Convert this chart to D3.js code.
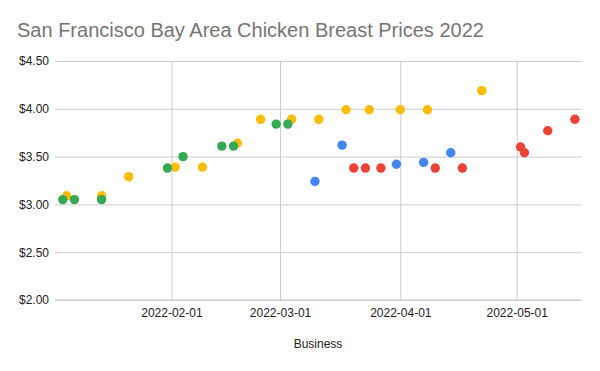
<!DOCTYPE html>
<html><head><meta charset="utf-8">
<script src="https://cdn.jsdelivr.net/npm/d3@7"></script>
<style>body{margin:0;background:#fff}svg{display:block;font-family:Arial,"Liberation Sans",sans-serif}</style>
</head><body><svg id="c" width="600" height="371"></svg>
<script>
const title = "San Francisco Bay Area Chicken Breast Prices 2022";
const xTitle = "Business";
const xTickLabels = ["2022-02-01", "2022-03-01", "2022-04-01", "2022-05-01"];
const yTicks = [2.0, 2.5, 3.0, 3.5, 4.0, 4.5];

const blueDates = ["2022-03-10", "2022-03-17", "2022-03-31", "2022-04-07", "2022-04-14"];
const bluePrices = [3.24, 3.62, 3.42, 3.44, 3.54];
const redDates = ["2022-03-20", "2022-03-23", "2022-03-27", "2022-04-10", "2022-04-17", "2022-05-02", "2022-05-03", "2022-05-09", "2022-05-16"];
const redPrices = [3.38, 3.38, 3.38, 3.38, 3.38, 3.60, 3.54, 3.77, 3.89];
const yellowDates = ["2022-01-05", "2022-01-14", "2022-01-21", "2022-02-02", "2022-02-09", "2022-02-18", "2022-02-24", "2022-03-04", "2022-03-11", "2022-03-18", "2022-03-24", "2022-04-01", "2022-04-08", "2022-04-22"];
const yellowPrices = [3.09, 3.09, 3.29, 3.39, 3.39, 3.64, 3.89, 3.89, 3.89, 3.99, 3.99, 3.99, 3.99, 4.19];
const greenDates = ["2022-01-04", "2022-01-07", "2022-01-14", "2022-01-31", "2022-02-04", "2022-02-14", "2022-02-17", "2022-02-28", "2022-03-03"];
const greenPrices = [3.05, 3.05, 3.05, 3.38, 3.50, 3.61, 3.61, 3.84, 3.84];

const parse = s => { const [y, m, d] = s.split("-").map(Number); return new Date(y, m - 1, d); };
const series = [
  {dates: blueDates, prices: bluePrices, color: "#4285F4"},
  {dates: redDates, prices: redPrices, color: "#EA4335"},
  {dates: yellowDates, prices: yellowPrices, color: "#FBBC04"},
  {dates: greenDates, prices: greenPrices, color: "#34A853"}
];

const svg = d3.select("#c");
const x = d3.scaleTime().domain([new Date(2022, 0, 2), new Date(2022, 4, 17, 18)]).range([55, 581.7]);
const y = d3.scaleLinear().domain([2, 4.5]).range([300, 61]);

svg.append("text").attr("x", 17).attr("y", 37).attr("font-size", 20).attr("fill", "#757575").text(title);

// horizontal grid + y labels
const ya = svg.append("g").attr("transform", "translate(55,0)")
  .call(d3.axisLeft(y).tickValues(yTicks).tickSize(-526.7).tickPadding(6).tickFormat(d3.format("$.2f")));
ya.select(".domain").remove();
ya.selectAll(".tick line").attr("stroke", "#cccccc");
ya.selectAll(".tick text").attr("font-size", 12).attr("fill", "#222").attr("font-family", "Arial, 'Liberation Sans', sans-serif");

// vertical grid + x labels
const xa = svg.append("g").attr("transform", "translate(0,300)")
  .call(d3.axisBottom(x).tickValues(xTickLabels.map(parse)).tickSize(-239).tickPadding(8)
    .tickFormat((d, i) => xTickLabels[i]));
xa.select(".domain").remove();
xa.selectAll(".tick line").attr("stroke", "#cccccc");
xa.selectAll(".tick text").attr("font-size", 12).attr("fill", "#222").attr("font-family", "Arial, 'Liberation Sans', sans-serif");
// baseline
svg.append("line").attr("x1", 55).attr("x2", 581.7).attr("y1", y(2)).attr("y2", y(2)).attr("stroke", "#cccccc");

svg.append("text").attr("x", 318).attr("y", 348).attr("text-anchor", "middle").attr("font-size", 12).attr("fill", "#222").text(xTitle);

series.forEach(s => {
  svg.append("g").selectAll("circle").data(s.dates.map((d, i) => ({d: parse(d), p: s.prices[i]})))
    .join("circle").attr("cx", d => x(d.d)).attr("cy", d => y(d.p)).attr("r", 4.7).attr("fill", s.color);
});
</script></body></html>
